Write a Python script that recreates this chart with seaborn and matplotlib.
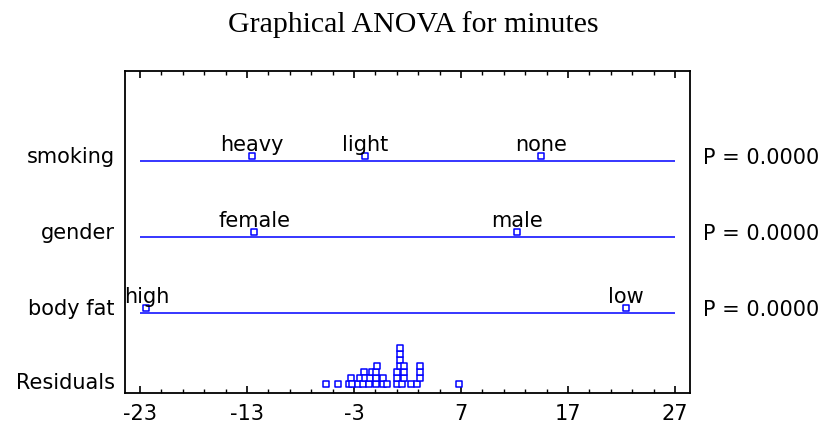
import matplotlib
matplotlib.use('Agg')
import matplotlib.pyplot as plt
import seaborn as sns
import pandas as pd
import numpy as np

# Datos
factors = ['smoking', 'gender', 'body fat']
smoking_levels = ['heavy', 'light', 'none']
smoking_effects = [-12.5, -2.0, 14.5]
gender_levels = ['female', 'male']
gender_effects = [-12.3, 12.2]
bodyfat_levels = ['high', 'low']
bodyfat_effects = [-22.4, 22.4]
p_values = ['0.0000', '0.0000', '0.0000']
residuals = [-5.64, -4.52, -3.47, -3.30, -3.15, -2.63, -2.40, -2.20, -2.10, -1.97,
             -1.60, -1.50, -1.35, -0.94, -0.94, -0.94, -0.85, -0.29, -0.29, 0.08,
             0.98, 0.98, 0.98, 1.27, 1.27, 1.27, 1.27, 1.49, 1.67, 1.67, 1.67,
             2.29, 2.93, 3.21, 3.21, 3.21, 6.81]
xticks = [-23, -13, -3, 7, 17, 27]

blue = '#0000ff'
row_y = {'smoking': 3, 'gender': 2, 'body fat': 1, 'Residuals': 0}
lift = 0.066     # los cuadrados quedan un poco sobre la linea
step = 0.079     # altura de un cuadrado apilado

# tabla de efectos
rows = []
for fac, levs, effs in [('smoking', smoking_levels, smoking_effects),
                        ('gender', gender_levels, gender_effects),
                        ('body fat', bodyfat_levels, bodyfat_effects)]:
    for l, e in zip(levs, effs):
        rows.append({'factor': fac, 'level': l, 'effect': e, 'y': row_y[fac] + lift})
df = pd.DataFrame(rows)

# apilar residuos como diagrama de puntos
w = 0.3
placed = []
levels = []
for r in sorted(residuals):
    k = 0
    while any(abs(r - pr) < w and pk == k for pr, pk in placed):
        k += 1
    placed.append((r, k))
    levels.append(k)
res = pd.DataFrame({'effect': sorted(residuals), 'y': [lift + k * step for k in levels]})

fig = plt.figure(figsize=(8.25, 4.32), dpi=100)
ax = fig.add_axes([125 / 825, 1 - 393.3 / 432, 565 / 825, 322.6 / 432])

for fac in factors:
    ax.hlines(row_y[fac], -23, 27, color=blue, lw=1.1, zorder=1)

marker_kw = dict(marker='s', s=16, facecolor='white', edgecolor=blue, linewidth=1.1, zorder=3, legend=False)
sns.scatterplot(data=df, x='effect', y='y', ax=ax, **marker_kw)
sns.scatterplot(data=res, x='effect', y='y', ax=ax, **marker_kw)

lab_font = dict(family='DejaVu Sans', fontsize=15)
for _, r in df.iterrows():
    ax.annotate(r['level'], (r['effect'], r['y']), xytext=(0, 0.5), textcoords='offset points',
                ha='center', va='bottom', **lab_font)

for fac, p in zip(factors, p_values):
    ax.text(-0.018, row_y[fac] + 0.05, fac, transform=ax.get_yaxis_transform(),
            ha='right', va='center', **lab_font)
    ax.text(1.023, row_y[fac] + 0.04, 'P = ' + p, transform=ax.get_yaxis_transform(),
            ha='left', va='center', **lab_font)
ax.text(-0.018, 0.08, 'Residuals', transform=ax.get_yaxis_transform(),
        ha='right', va='center', **lab_font)

ax.set_xlim(-24.4, 28.4)
ax.set_ylim(-0.057, 4.188)
ax.set_xticks(xticks)
ax.set_xticklabels([str(t) for t in xticks], **lab_font)
ax.set_xticks(np.arange(-23, 28, 2), minor=True)
ax.tick_params(axis='x', which='major', direction='in', length=5, width=1.2, top=True, pad=8)
ax.tick_params(axis='x', which='minor', direction='in', length=3, width=1.0, top=True)
ax.set_yticks([])
ax.set_xlabel('')
ax.set_ylabel('')
for s in ax.spines.values():
    s.set_linewidth(1.3)

fig.text(413 / 825, 1 - 25 / 432, 'Graphical ANOVA for minutes', ha='center', va='center',
         family='Liberation Serif', fontsize=21.5)

fig.savefig('out.png', dpi=100)
